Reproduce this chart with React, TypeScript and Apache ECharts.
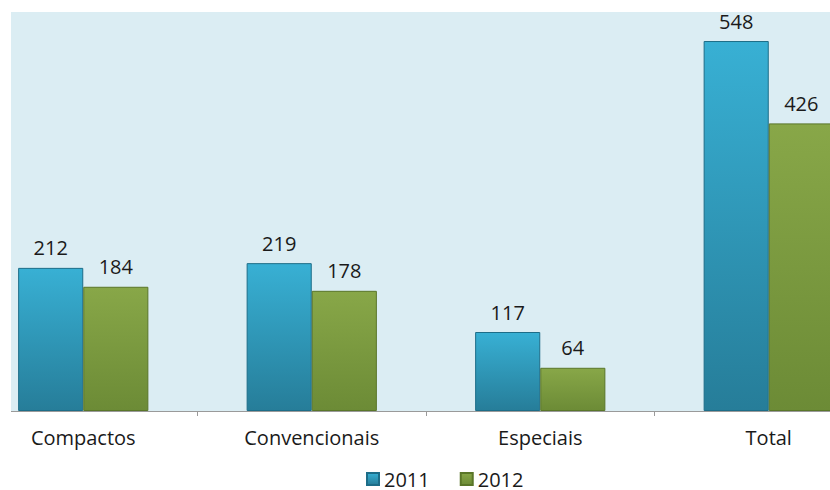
import React, { useEffect, useRef } from "react";
import * as echarts from "echarts";

const categories = ["Compactos", "Convencionais", "Especiais", "Total"];
const seriesNames = ["2011", "2012"];
const values2011 = [212, 219, 117, 548];
const values2012 = [184, 178, 64, 426];

const FONT = "'Open Sans', 'DejaVu Sans', sans-serif";
const SHIFT = 31;

export default function App() {
  const ref = useRef<HTMLDivElement>(null);
  useEffect(() => {
    if (!ref.current) return;
    const chart = echarts.init(ref.current, null, { renderer: "svg" });
    const blue = new echarts.graphic.LinearGradient(0, 0, 0, 1, [
      { offset: 0, color: "#38b0d4" },
      { offset: 1, color: "#267d99" },
    ]);
    const green = new echarts.graphic.LinearGradient(0, 0, 0, 1, [
      { offset: 0, color: "#88a748" },
      { offset: 1, color: "#6c8b36" },
    ]);
    const label = {
      show: true,
      position: "top" as const,
      distance: 10,
      color: "#1a1a1a",
      fontSize: 20,
      fontFamily: FONT,
    };
    chart.setOption({
      animation: false,
      backgroundColor: "#ffffff",
      grid: { left: 0, width: 914, top: 12, bottom: 79, containLabel: false },
      graphic: [
        {
          type: "rect",
          z: -10,
          shape: { x: 11 + SHIFT, y: 12, width: 830, height: 399 },
          style: { fill: "#dbedf3" },
          silent: true,
        },
        {
          type: "line",
          z: 10,
          shape: { x1: 11 + SHIFT, y1: 411.5, x2: 830 + SHIFT, y2: 411.5 },
          style: { stroke: "#9a9a9a", lineWidth: 1 },
          silent: true,
        },
      ],
      legend: {
        left: 366 + SHIFT,
        top: 469,
        padding: 0,
        itemWidth: 12,
        itemHeight: 12,
        itemGap: 30,
        icon: "rect",
        textStyle: { fontSize: 20, color: "#1a1a1a", fontFamily: FONT },
        data: seriesNames,
      },
      xAxis: {
        type: "category",
        data: categories,
        axisLine: { show: false },
        axisTick: { show: true, length: 5, lineStyle: { color: "#9a9a9a" } },
        axisLabel: { margin: 16, fontSize: 20, color: "#1a1a1a", fontFamily: FONT },
      },
      yAxis: {
        type: "value",
        min: 0,
        max: 591,
        show: false,
        splitLine: { show: false },
      },
      series: [
        {
          name: seriesNames[0],
          type: "bar",
          data: values2011,
          barGap: "0%",
          barCategoryGap: "43%",
          itemStyle: { color: blue, borderColor: "#1d6d88", borderWidth: 1 },
          label,
        },
        {
          name: seriesNames[1],
          type: "bar",
          data: values2012,
          itemStyle: { color: green, borderColor: "#5a7629", borderWidth: 1 },
          label,
        },
      ],
    });
    return () => chart.dispose();
  }, []);
  return (
    <div style={{ position: "absolute", left: 0, top: 0, width: 830, height: 490, overflow: "hidden" }}>
      <div ref={ref} style={{ position: "absolute", left: -SHIFT, top: 0, width: 914, height: 490 }} />
    </div>
  );
}
